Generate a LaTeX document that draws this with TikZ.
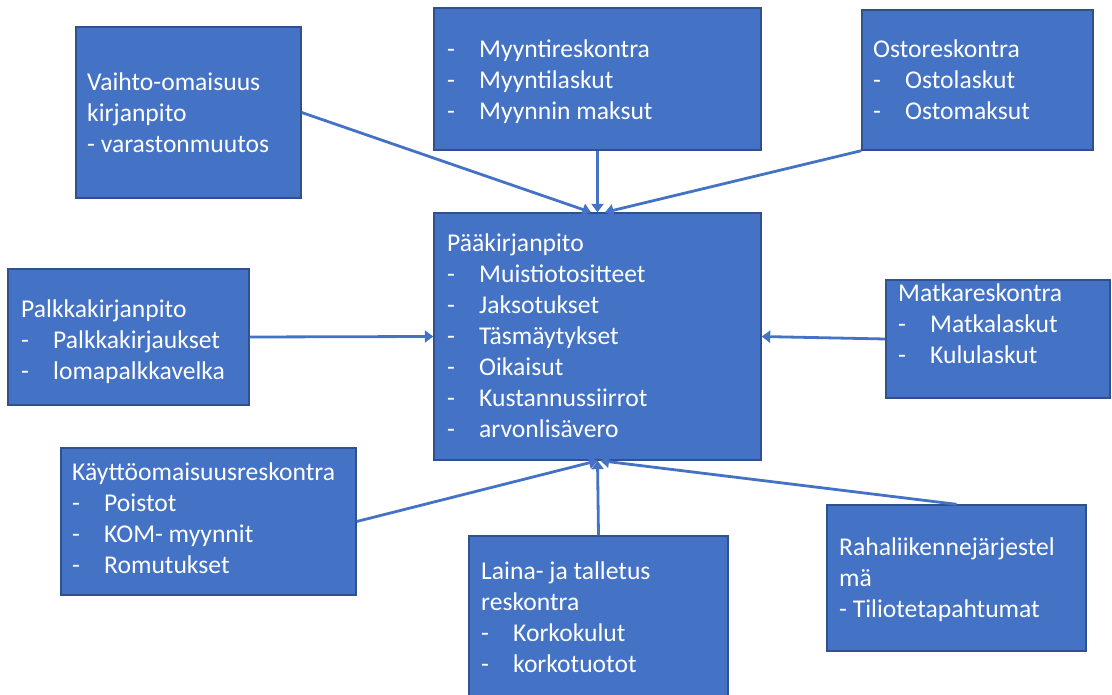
\documentclass[tikz,border=0pt]{standalone}
\usepackage{fontspec}
\setmainfont{Carlito}
\usetikzlibrary{arrows.meta}
\definecolor{boxfill}{HTML}{4472C4}
\definecolor{boxline}{HTML}{2F528F}
\definecolor{link}{HTML}{4472C4}
% list item with a tab after the dash
\newcommand\itm[1]{\makebox[32pt][l]{-}#1}
\tikzset{
  box/.style={rectangle, fill=boxfill, draw=boxline, line width=1.4pt, inner sep=0pt},
  txt/.style={anchor=north west, yshift=21.7pt, inner sep=0pt, align=left,
    text=white, font=\fontsize{25.6}{31}\selectfont},
  feed/.style={draw=link, line width=2.8pt, -{Triangle[width=12pt,length=8.5pt]}}
}
\begin{document}
\begin{tikzpicture}[x=1pt,y=-1pt]
\useasboundingbox (0,0) rectangle (1112,695);
\clip (0,0) rectangle (1112,695);

% boxes
\node[box, minimum width=225, minimum height=171] (vaihto) at (188.5,112.5) {};
\node[box, minimum width=327, minimum height=142] (myynti) at (597.5,79) {};
\node[box, minimum width=231, minimum height=140] (osto) at (977.5,80) {};
\node[box, minimum width=327, minimum height=247] (paa) at (597.5,336.5) {};
\node[box, minimum width=241, minimum height=136] (palkka) at (128.5,337) {};
\node[box, minimum width=224, minimum height=118] (matka) at (998,339) {};
\node[box, minimum width=295, minimum height=147] (kaytto) at (208.5,521.5) {};
\node[box, minimum width=259, minimum height=169] (laina) at (598.5,620.5) {};
\node[box, minimum width=259, minimum height=146] (raha) at (956.5,578) {};

% box texts
\node[txt] (tvaihto) at (87,90) {\strut Vaihto-omaisuus\\kirjanpito\\- varastonmuutos};
\node[txt] (tmyynti) at (447,57) {\strut\itm{Myyntireskontra}\\\itm{Myyntilaskut}\\\itm{Myynnin maksut}};
\node[txt] (tosto) at (873,57) {\strut Ostoreskontra\\\itm{Ostolaskut}\\\itm{Ostomaksut}};
\node[txt] (tpaa) at (447,251) {\strut Pääkirjanpito\\\itm{Muistiotositteet}\\\itm{Jaksotukset}\\\itm{Täsmäytykset}\\\itm{Oikaisut}\\\itm{Kustannussiirrot}\\\itm{arvonlisävero}};
\node[txt] (tpalkka) at (21,317) {\strut Palkkakirjanpito\\\itm{Palkkakirjaukset}\\\itm{lomapalkkavelka}};
\node[txt] (tmatka) at (898,301) {\strut Matkareskontra\\\itm{Matkalaskut}\\\itm{Kululaskut}};
\node[txt] (tkaytto) at (72,480) {\strut Käyttöomaisuusreskontra\\\itm{Poistot}\\\itm{KOM- myynnit}\\\itm{Romutukset}};
\node[txt] (tlaina) at (481,579) {\strut Laina- ja talletus\\reskontra\\\itm{Korkokulut}\\\itm{korkotuotot}};
\node[txt] (traha) at (839,555) {\strut Rahaliikennejärjestel\\mä\\- Tiliotetapahtumat};

% connectors into the general ledger
\draw[feed] (vaihto.east) -- ([xshift=-6.5pt]paa.north);
\draw[feed] (myynti.south) -- (paa.north);
\draw[feed] (osto.south west) -- ([xshift=7.5pt]paa.north);
\draw[feed] (palkka.east) -- (paa.west);
\draw[feed] (matka.west) -- (paa.east);
\draw[feed] (kaytto.east) -- (paa.south);
\draw[feed] (laina.north) -- (paa.south);
\draw[feed] (raha.north) -- ([xshift=3pt]paa.south);
\end{tikzpicture}
\end{document}
